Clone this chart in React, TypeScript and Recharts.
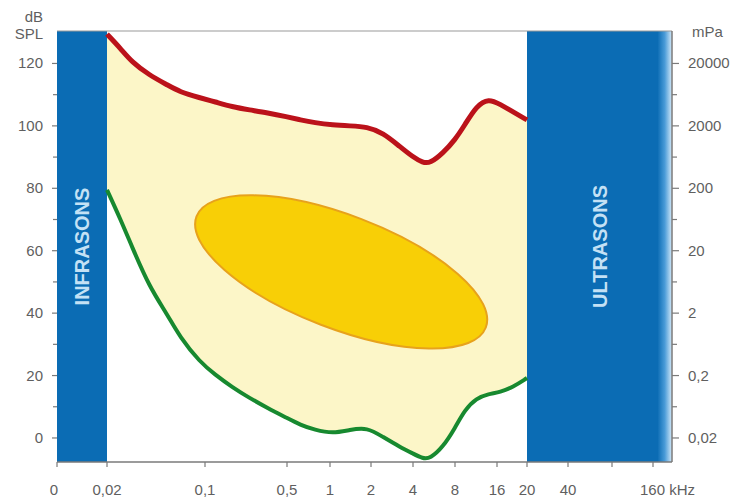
import React from 'react';
import { ComposedChart, Area, Line, XAxis, YAxis, ReferenceArea, ReferenceLine } from 'recharts';

// Hand-drawn frequency scale of the figure (piecewise logarithmic): anchor frequencies (kHz) and their axis units
const scaleFreqs = [0, 0.02, 0.1, 0.5, 1, 2, 4, 8, 16, 20, 40, 80, 160];
const scaleUnits = [0, 50, 148, 230, 273, 314, 356, 398, 440, 470, 511, 555, 596];
const xTickLabels = ['0', '0,02', '0,1', '0,5', '1', '2', '4', '8', '16', '20', '40', '', '160'];
const X_MAX = 615;

// dB SPL axis
const Y_MIN = -7.7;
const Y_MAX = 130.4;
const dbTicks = [0, 10, 20, 30, 40, 50, 60, 70, 80, 90, 100, 110, 120];
const dbMajor = [0, 20, 40, 60, 80, 100, 120];
const mPaLabels = ['0,02', '0,2', '2', '20', '200', '2000', '20000'];

// Curves (frequency kHz, level dB SPL)
const freqs = [0.02, 0.025, 0.03, 0.04, 0.054, 0.066, 0.092, 0.122, 0.17, 0.24, 0.34, 0.5, 0.62, 0.78, 1.05, 1.4, 1.87, 2.44, 3.23, 4, 4.7, 5.3, 6.56, 8, 9.4, 11.4, 13.9, 16.4, 18, 20];
const painThreshold = [129.4, 124.8, 120.5, 116.3, 113.1, 110.9, 109, 107.7, 106.1, 105.1, 104.2, 102.9, 101.9, 101, 100.3, 100, 99.7, 97.8, 93.3, 90, 88.2, 88, 91.3, 95.5, 100.3, 106.4, 108.8, 106.9, 104.5, 101.9];
const hearingThreshold = [79.5, 70, 61.5, 48.5, 39.5, 32.4, 24.3, 20.3, 16.3, 12.8, 9.6, 6.4, 4.2, 2.6, 1.4, 2.6, 3.4, 0.3, -2.9, -5, -6.6, -6.6, -2.9, 3.2, 9, 12.8, 14.1, 14.7, 16.3, 19.2];

// Speech area: ends of the major axis (kHz, dB) and minor/major ratio
const speechFreqs = [0.087, 13.3];
const speechLevels = [71.0, 35.4];
const SPEECH_RATIO = 0.365;

// Band limits (kHz)
const infraBand = [0, 0.02];
const ultraStart = 20;

const toPos = (f: number): number => {
  if (f <= scaleFreqs[0]) return scaleUnits[0];
  for (let i = 0; i < scaleFreqs.length - 1; i++) {
    const f0 = scaleFreqs[i];
    const f1 = scaleFreqs[i + 1];
    if (f >= f0 && f <= f1) {
      const t = f0 === 0 ? f / f1 : Math.log(f / f0) / Math.log(f1 / f0);
      return scaleUnits[i] + t * (scaleUnits[i + 1] - scaleUnits[i]);
    }
  }
  return scaleUnits[scaleUnits.length - 1];
};

const rows = freqs.map((f, i) => ({
  pos: toPos(f),
  red: painThreshold[i],
  green: hearingThreshold[i],
}));

const FONT = '"Liberation Sans", Arial, sans-serif';
const TXT = '#5f5f5f';
const AX = '#7a7a7a';

const XTick = (props: any) => {
  const { x, y, payload } = props;
  const idx = scaleUnits.indexOf(payload.value);
  const label = idx >= 0 ? xTickLabels[idx] : '';
  const isLast = label === '160';
  const isFirst = idx === 0;
  return (
    <g>
      <line x1={x} x2={x} y1={y} y2={y + 5} stroke={AX} strokeWidth={1.2} />
      {label !== '' && (
        <text
          x={isLast ? x - 13 : isFirst ? x - 3 : x}
          y={y + 33}
          textAnchor={isLast ? 'start' : 'middle'}
          fill={TXT}
          fontSize={15}
          fontFamily={FONT}
        >
          {isLast ? '160 kHz' : label}
        </text>
      )}
    </g>
  );
};

const LeftTick = (props: any) => {
  const { x, y, payload } = props;
  const v = payload.value;
  const major = dbMajor.includes(v);
  return (
    <g>
      <line x1={x - (major ? 5 : 4)} x2={x} y1={y} y2={y} stroke={AX} strokeWidth={1.2} />
      {major && (
        <text x={x - 14} y={y + 5} textAnchor="end" fill={TXT} fontSize={15} fontFamily={FONT}>
          {v}
        </text>
      )}
    </g>
  );
};

const RightTick = (props: any) => {
  const { x, y, payload } = props;
  const v = payload.value;
  const mi = dbMajor.indexOf(v);
  const major = mi >= 0;
  return (
    <g>
      <line x1={x} x2={x + (major ? 7 : 5)} y1={y} y2={y} stroke={AX} strokeWidth={1.2} />
      {major && (
        <text x={x + 16} y={y + 5} textAnchor="start" fill={TXT} fontSize={15} fontFamily={FONT}>
          {mPaLabels[mi]}
        </text>
      )}
    </g>
  );
};

const EllipseShape = (props: any) => {
  const { x, y, width, height } = props;
  const cx = x + width / 2;
  const cy = y + height / 2;
  const a = Math.sqrt(width * width + height * height) / 2;
  const angle = (Math.atan2(height, width) * 180) / Math.PI;
  return (
    <ellipse
      cx={cx}
      cy={cy}
      rx={a}
      ry={a * SPEECH_RATIO}
      transform={`rotate(${angle} ${cx} ${cy})`}
      fill="#f8cf06"
      stroke="#e7a21c"
      strokeWidth={2}
    />
  );
};

const bandLabel = (value: string) => ({
  value,
  position: 'center' as const,
  angle: -90,
  fill: '#c4e1f5',
  fontSize: 20,
  fontWeight: 'bold',
  fontFamily: FONT,
});

export default function App() {
  return (
    <div style={{ position: 'relative', width: 735, height: 492, fontFamily: FONT }}>
      <ComposedChart width={735} height={492} data={rows} margin={{ top: 23, right: 0, bottom: 0, left: 0 }}>
        <defs>
          <linearGradient id="usGrad" x1="0" y1="0" x2="1" y2="0">
            <stop offset="0" stopColor="#0b6cb4" />
            <stop offset="0.9" stopColor="#0b6cb4" />
            <stop offset="0.95" stopColor="#4a9bd8" />
            <stop offset="1" stopColor="#d4e9f8" />
          </linearGradient>
        </defs>
        <XAxis
          type="number"
          dataKey="pos"
          domain={[0, X_MAX]}
          ticks={scaleUnits}
          interval={0}
          allowDataOverflow
          height={38}
          tickSize={0}
          tickMargin={0}
          tickLine={false}
          axisLine={{ stroke: AX, strokeWidth: 1.5 }}
          tick={<XTick />}
        />
        <YAxis
          yAxisId="left"
          type="number"
          domain={[Y_MIN, Y_MAX]}
          ticks={dbTicks}
          interval={0}
          allowDataOverflow
          width={49}
          tickSize={0}
          tickMargin={0}
          tickLine={false}
          axisLine={false}
          tick={<LeftTick />}
        />
        <YAxis
          yAxisId="right"
          orientation="right"
          type="number"
          domain={[Y_MIN, Y_MAX]}
          ticks={dbTicks}
          interval={0}
          allowDataOverflow
          width={71}
          tickSize={0}
          tickMargin={0}
          tickLine={false}
          axisLine={{ stroke: AX, strokeWidth: 1.5 }}
          tick={<RightTick />}
        />
        <ReferenceLine yAxisId="left" y={Y_MAX} stroke="#9a9a9a" strokeWidth={1.2} />
        <Area
          yAxisId="left"
          type="basis"
          dataKey={(d: any) => [d.green, d.red]}
          fill="#fcf6c8"
          fillOpacity={1}
          stroke="none"
          isAnimationActive={false}
          activeDot={false}
        />
        <ReferenceArea
          yAxisId="left"
          x1={toPos(infraBand[0])}
          x2={toPos(infraBand[1])}
          y1={Y_MIN}
          y2={Y_MAX}
          fill="#0b6cb4"
          fillOpacity={1}
          stroke="none"
          label={bandLabel('INFRASONS')}
        />
        <ReferenceArea
          yAxisId="left"
          x1={toPos(ultraStart)}
          x2={X_MAX}
          y1={Y_MIN}
          y2={Y_MAX}
          fill="url(#usGrad)"
          fillOpacity={1}
          stroke="none"
          label={bandLabel('ULTRASONS')}
        />
        <ReferenceArea
          yAxisId="left"
          x1={toPos(speechFreqs[0])}
          x2={toPos(speechFreqs[1])}
          y1={speechLevels[1]}
          y2={speechLevels[0]}
          shape={EllipseShape}
        />
        <Line
          yAxisId="left"
          type="basis"
          dataKey="red"
          stroke="#bb121a"
          strokeWidth={5}
          dot={false}
          activeDot={false}
          isAnimationActive={false}
        />
        <Line
          yAxisId="left"
          type="basis"
          dataKey="green"
          stroke="#17892f"
          strokeWidth={4}
          dot={false}
          activeDot={false}
          isAnimationActive={false}
        />
      </ComposedChart>
      <div style={{ position: 'absolute', right: 700, top: 0, fontSize: 15, color: TXT, lineHeight: '17px', textAlign: 'right' }}>
        dB
        <br />
        SPL
      </div>
      <div style={{ position: 'absolute', left: 684, top: 15, fontSize: 15, color: TXT, lineHeight: '17px' }}>mPa</div>
    </div>
  );
}
